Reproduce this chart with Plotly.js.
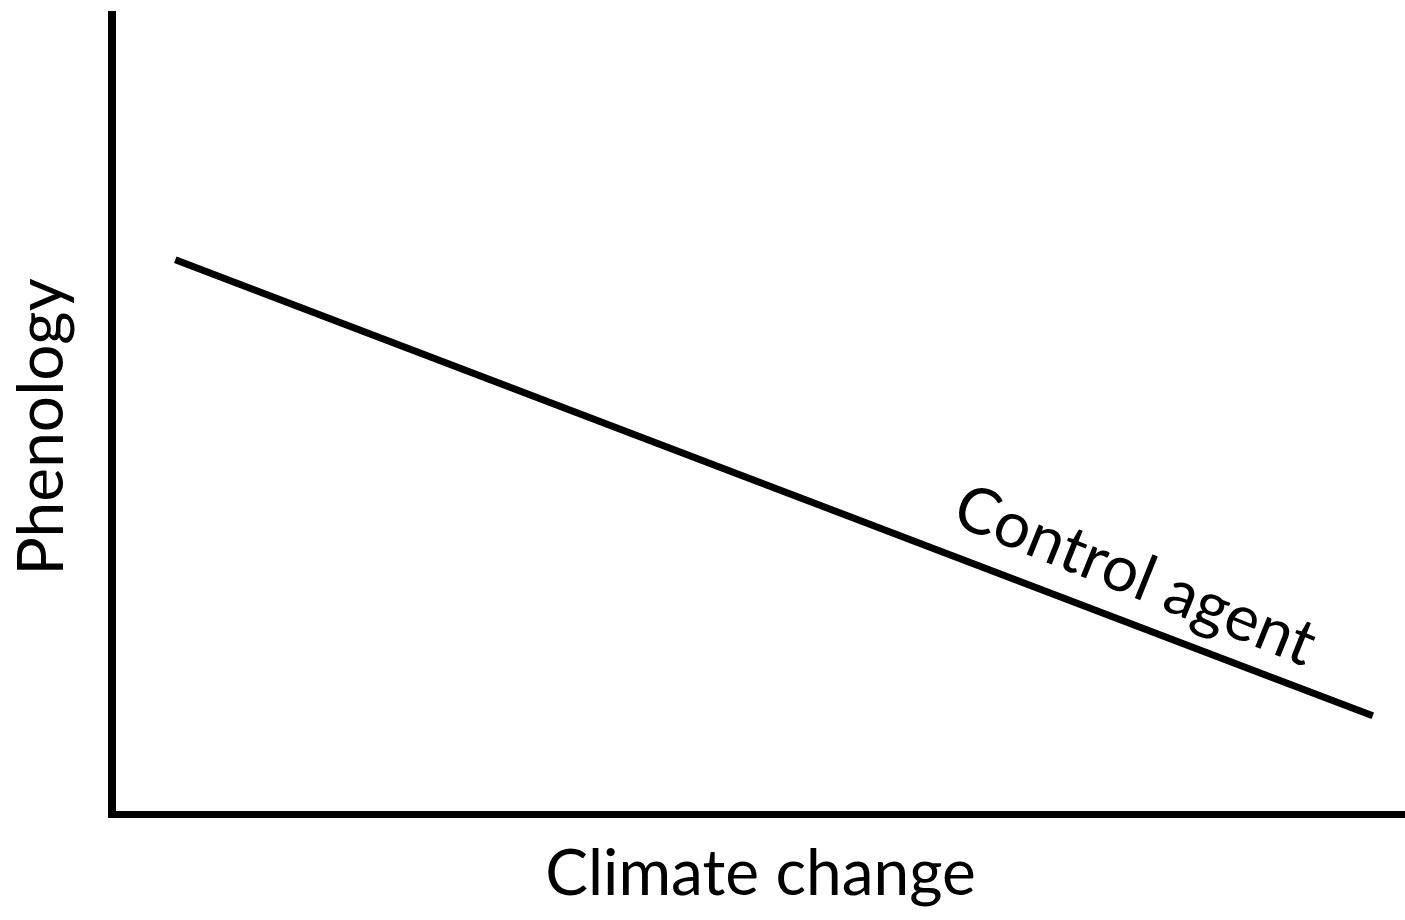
<!DOCTYPE html>
<html>
<head>
<meta charset="utf-8">
<script src="https://cdn.plot.ly/plotly-3.0.1.min.js"></script>
<style>html,body{margin:0;padding:0;background:#fff;}#chart{width:1405px;height:920px;}</style>
</head>
<body>
<div id="chart"></div>
<script>
// Conceptual data (axis units 0-100)
const climateChange = [4.6, 97.5];
const phenology = [68.9, 11.9];
const seriesLabel = "Control agent";
const labelPos = {x: 79.2, y: 29.8};
const xTitle = "Climate change";
const yTitle = "Phenology";

const FONT = "Lato, 'Open Sans', sans-serif";
const FS = 64;

const trace = {
  x: climateChange,
  y: phenology,
  mode: "lines",
  type: "scatter",
  line: {color: "#000", width: 7},
  hoverinfo: "skip",
  showlegend: false
};

const layout = {
  width: 1405,
  height: 920,
  margin: {l: 116, r: 0, t: 11, b: 109},
  paper_bgcolor: "#fff",
  plot_bgcolor: "#fff",
  font: {family: FONT, color: "#000"},
  xaxis: {
    range: [0, 100],
    showgrid: false, zeroline: false, showticklabels: false, ticks: "",
    showline: true, linecolor: "#000", linewidth: 7,
    title: {text: xTitle, font: {family: FONT, size: FS, color: "#000"}, standoff: 36}
  },
  yaxis: {
    range: [0, 100],
    showgrid: false, zeroline: false, showticklabels: false, ticks: "",
    showline: true, linecolor: "#000", linewidth: 8,
    title: {text: yTitle, font: {family: FONT, size: FS, color: "#000"}, standoff: 29}
  },
  annotations: [{
    x: labelPos.x, y: labelPos.y, xref: "x", yref: "y",
    text: seriesLabel, showarrow: false, textangle: 22,
    font: {family: FONT, size: FS, color: "#000"}
  }]
};

Plotly.newPlot("chart", [trace], layout, {staticPlot: true, displayModeBar: false}).then(function () {
  // nudge the y-axis title slightly downward to match the reference centring
  var t = document.querySelector(".ytitle");
  if (t) {
    var tr = t.getAttribute("transform") || "";
    t.setAttribute("transform", "translate(0,16) " + tr);
  }
});
</script>
</body>
</html>
